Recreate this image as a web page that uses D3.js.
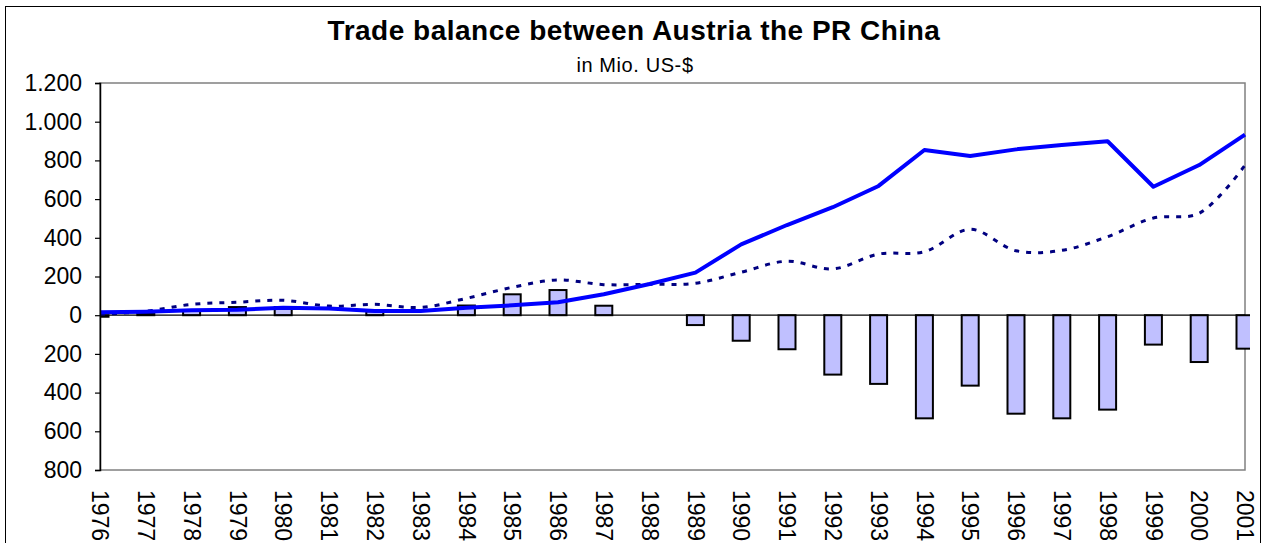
<!DOCTYPE html>
<html>
<head>
<meta charset="utf-8">
<script src="https://cdn.jsdelivr.net/npm/d3@7"></script>
<style>
  body { margin: 0; background: #fff; }
  svg { display: block; font-family: "Liberation Sans", Arial, sans-serif; }
</style>
</head>
<body>
<svg id="chart"></svg>
<script>
var width = 1266;
var height = 543;

// years on the category axis
var years = ["1976", "1977", "1978", "1979", "1980", "1981", "1982", "1983", "1984",
  "1985", "1986", "1987", "1988", "1989", "1990", "1991", "1992", "1993", "1994",
  "1995", "1996", "1997", "1998", "1999", "2000", "2001"];

// solid line (imports from China), Mio. US-$
var imports = [15, 18, 25, 28, 38, 35, 22, 22, 39, 51, 67, 108, 161, 220, 366, 466,
  558, 668, 854, 823, 857, 880, 899, 664, 776, 933];

// dotted line (exports to China)
var exports = [5, 20, 56, 67, 77, 47, 56, 40, 87, 144, 182, 158, 160, 165, 222, 279,
  239, 316, 328, 444, 333, 335, 406, 502, 527, 775];

// bars (trade balance)
var balance = [-8, 8, 22, 42, 42, 0, 20, 0, 50, 108, 130, 49, 0, -51, -132, -176,
  -307, -355, -533, -364, -509, -533, -488, -152, -242, -173];

var yTicks = [-800, -600, -400, -200, 0, 200, 400, 600, 800, 1000, 1200];

var plot = { left: 100, right: 1245, top: 83, bottom: 470 };

var deLocale = d3.formatLocale({ decimal: ",", thousands: ".", grouping: [3], currency: ["", ""] });
var fmt = deLocale.format(",");

var svg = d3.select("#chart")
  .attr("width", width)
  .attr("height", height);

// outer chart frame
svg.append("rect")
  .attr("x", 5.5).attr("y", 6.5)
  .attr("width", 1255).attr("height", 560)
  .attr("fill", "none")
  .attr("stroke", "#000")
  .attr("stroke-width", 1);

svg.append("text")
  .attr("x", 634)
  .attr("y", 40)
  .attr("text-anchor", "middle")
  .style("font-size", "28px")
  .style("font-weight", "bold")
  .style("letter-spacing", "0.5px")
  .text("Trade balance between Austria the PR China");

svg.append("text")
  .attr("x", 635)
  .attr("y", 72)
  .attr("text-anchor", "middle")
  .style("font-size", "20px")
  .style("letter-spacing", "0.6px")
  .text("in Mio. US-$");

var x = d3.scalePoint()
  .domain(years)
  .range([plot.left, plot.right])
  .padding(0);

var y = d3.scaleLinear()
  .domain([-800, 1200])
  .range([plot.bottom, plot.top]);

// plot area border (grey)
svg.append("rect")
  .attr("x", plot.left).attr("y", plot.top)
  .attr("width", plot.right - plot.left)
  .attr("height", plot.bottom - plot.top)
  .attr("fill", "none")
  .attr("stroke", "#808080")
  .attr("stroke-width", 1.5);

svg.append("clipPath")
  .attr("id", "clip")
  .append("rect")
  .attr("x", plot.left).attr("y", plot.top - 5)
  .attr("width", plot.right - plot.left + 5)
  .attr("height", plot.bottom - plot.top + 10);

var barW = 17;
var rows = years.map(function(yr, i) {
  return { year: yr, imp: imports[i], exp: exports[i], bal: balance[i] };
});

svg.append("g")
  .attr("clip-path", "url(#clip)")
  .selectAll("rect")
  .data(rows.filter(function(d) { return d.bal !== 0; }))
  .enter().append("rect")
  .attr("x", function(d) { return x(d.year) - barW / 2; })
  .attr("y", function(d) { return y(Math.max(0, d.bal)); })
  .attr("width", barW)
  .attr("height", function(d) { return Math.abs(y(d.bal) - y(0)); })
  .attr("fill", "#c0c0ff")
  .attr("stroke", "#000")
  .attr("stroke-width", 2);

// zero line
svg.append("line")
  .attr("x1", plot.left).attr("x2", plot.right)
  .attr("y1", y(0)).attr("y2", y(0))
  .attr("stroke", "#000")
  .attr("stroke-width", 1.2);

var dotted = d3.line()
  .x(function(d) { return x(d.year); })
  .y(function(d) { return y(d.exp); })
  .curve(d3.curveCatmullRom);

svg.append("path")
  .datum(rows)
  .attr("d", dotted)
  .attr("fill", "none")
  .attr("stroke", "#000080")
  .attr("stroke-width", 3)
  .attr("stroke-dasharray", "5,7");

var solid = d3.line()
  .x(function(d) { return x(d.year); })
  .y(function(d) { return y(d.imp); });

svg.append("path")
  .datum(rows)
  .attr("d", solid)
  .attr("fill", "none")
  .attr("stroke", "#0000ff")
  .attr("stroke-width", 4)
  .attr("stroke-linejoin", "round");

// y axis
var yAxis = svg.append("g")
  .attr("transform", "translate(" + plot.left + ",0)")
  .call(d3.axisLeft(y)
    .tickValues(yTicks)
    .tickSize(5)
    .tickPadding(13)
    .tickFormat(function(d) { return fmt(Math.abs(d)); }));

yAxis.select(".domain").attr("stroke", "#000").attr("stroke-width", 1.5);
yAxis.selectAll(".tick line").attr("stroke", "#000").attr("stroke-width", 1.2);
yAxis.selectAll("text")
  .style("font-size", "23px")
  .style("font-family", "'Liberation Sans', Arial, sans-serif")
  .attr("fill", "#000");

// x axis
var xAxis = svg.append("g")
  .attr("transform", "translate(0," + plot.bottom + ")")
  .call(d3.axisBottom(x).tickSize(0));

xAxis.select(".domain").remove();
xAxis.selectAll("text")
  .attr("transform", "rotate(90)")
  .attr("x", 20)
  .attr("y", 0)
  .attr("dy", "0.36em")
  .attr("text-anchor", "start")
  .style("font-size", "23px")
  .style("font-family", "'Liberation Sans', Arial, sans-serif")
  .attr("fill", "#000");
</script>
</body>
</html>
